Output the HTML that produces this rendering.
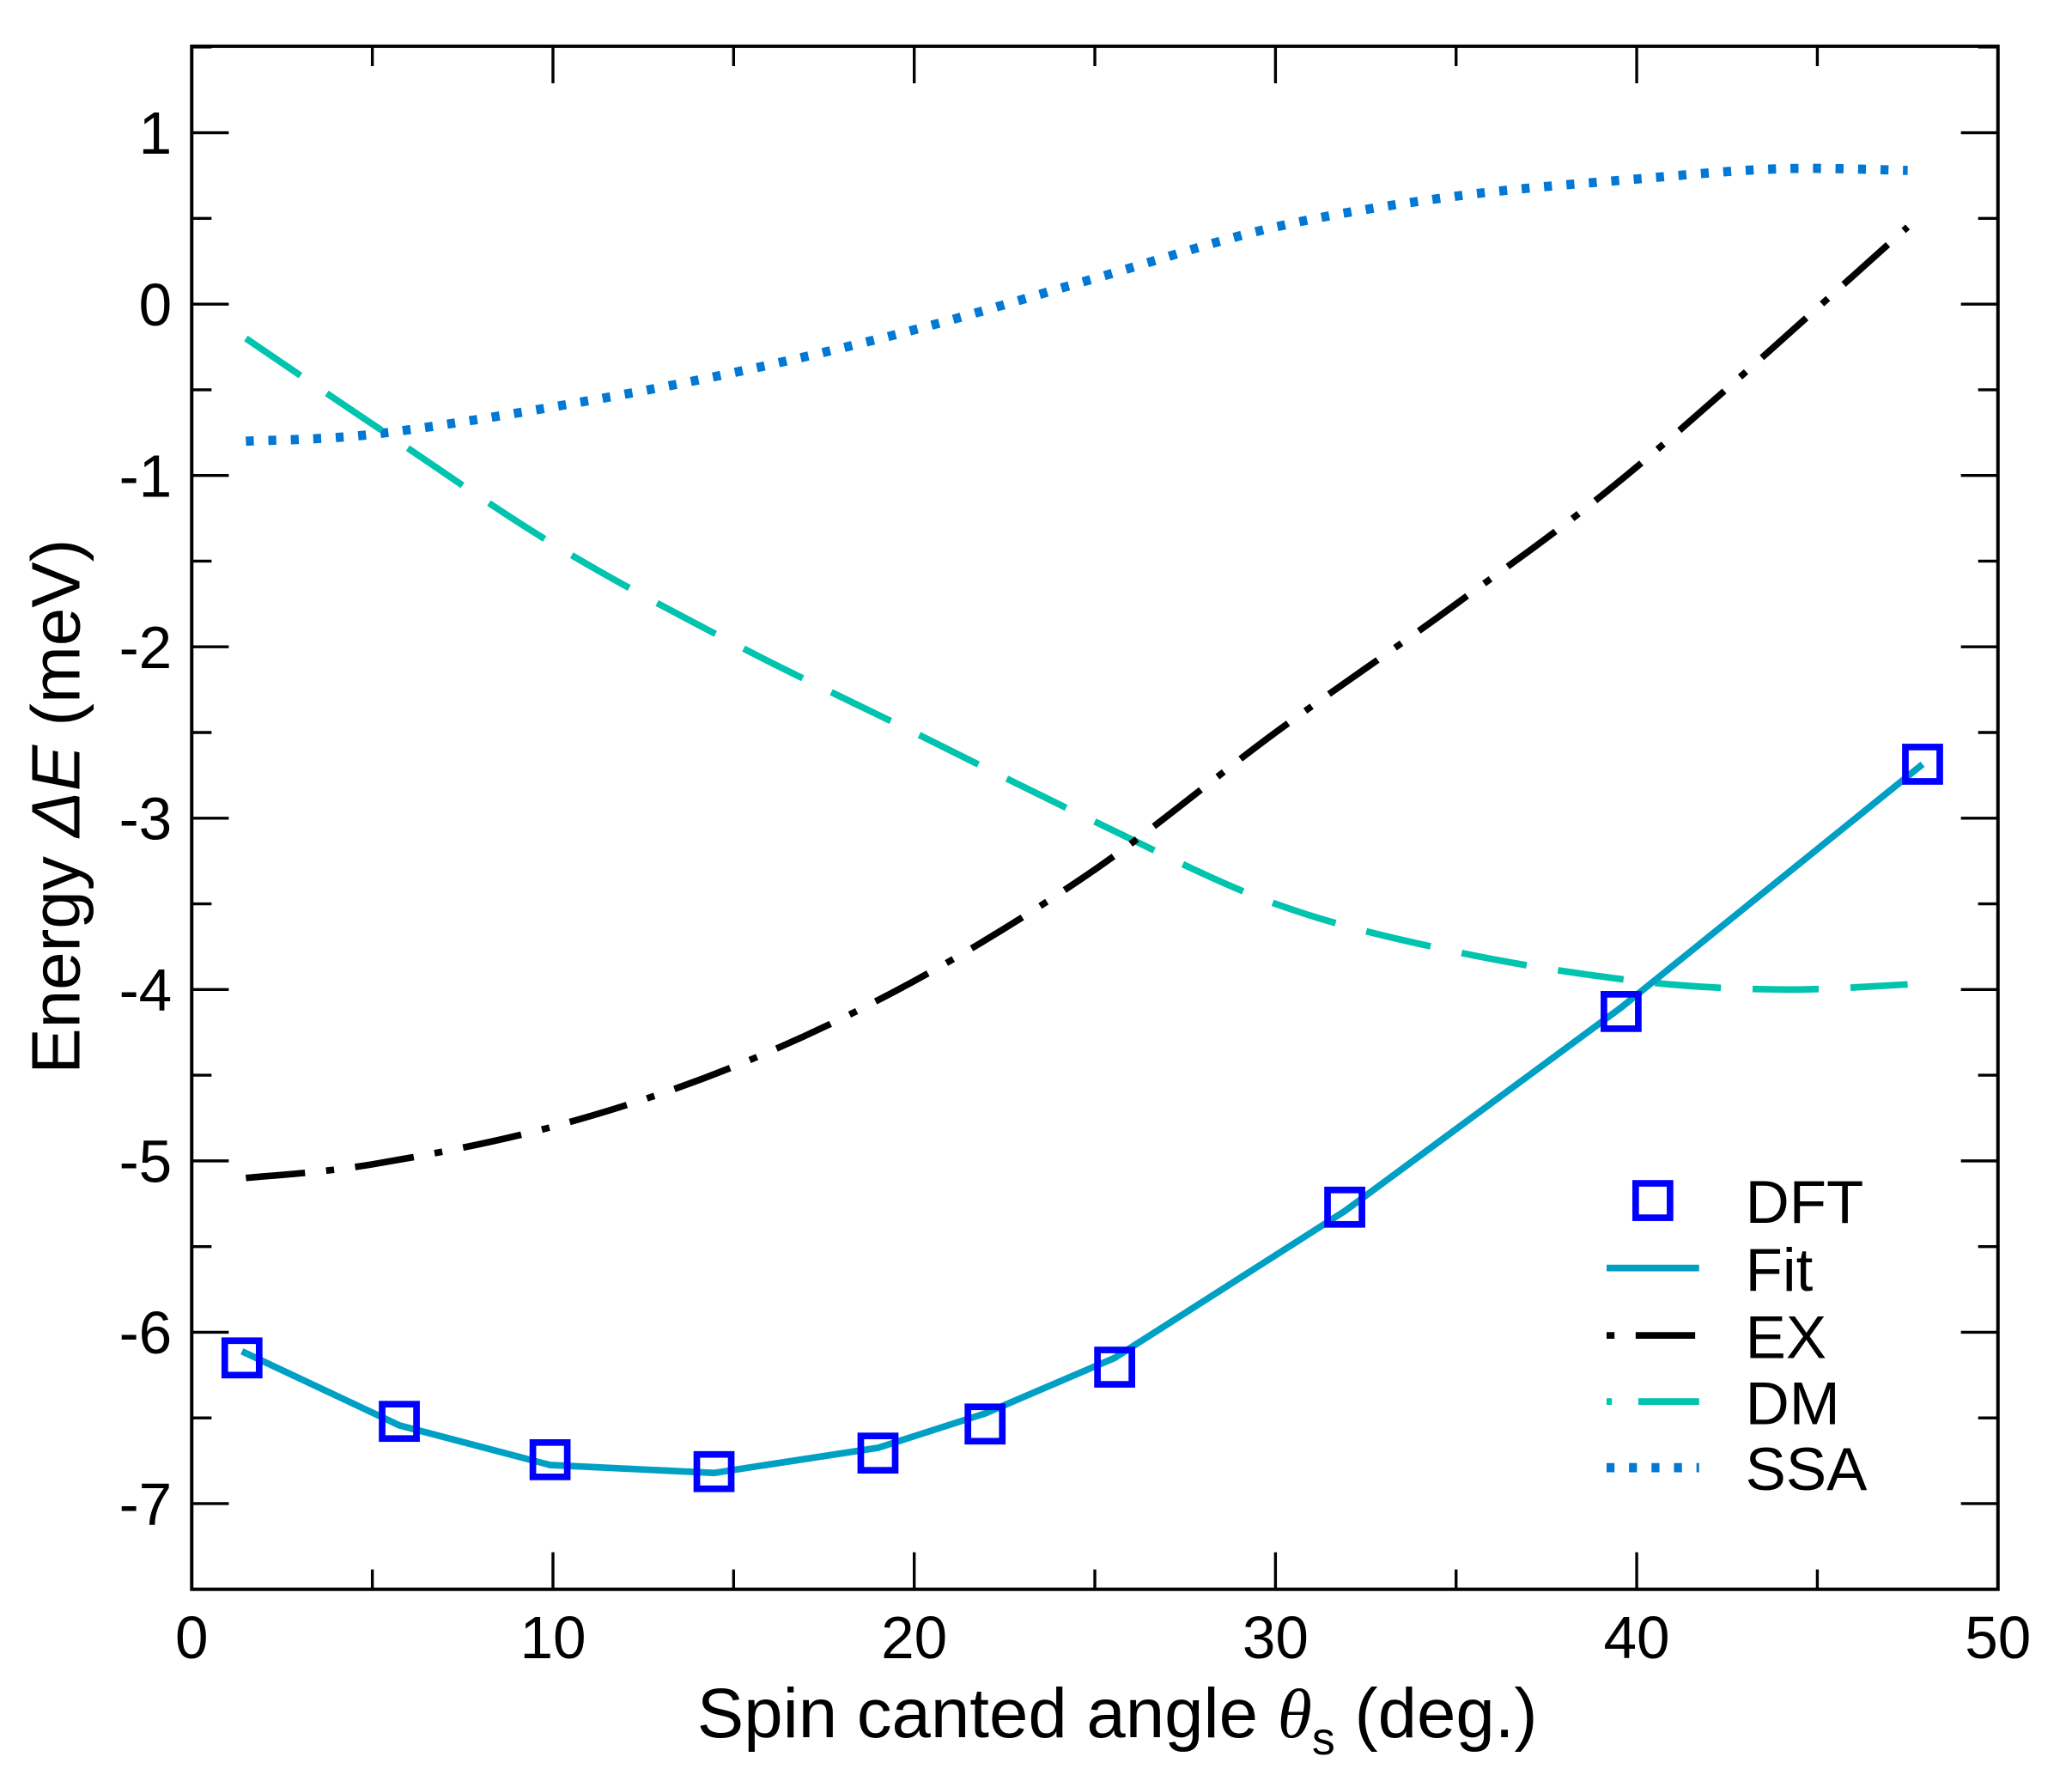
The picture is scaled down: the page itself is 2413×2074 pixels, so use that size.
<!DOCTYPE html>
<html><head><meta charset="utf-8">
<style>html,body{margin:0;padding:0;background:#fff}svg{display:block}</style>
</head><body>
<svg id="s" width="2413" height="2074" viewBox="0 0 1567 1347" preserveAspectRatio="none" xmlns="http://www.w3.org/2000/svg" font-family="Liberation Sans, Arial, sans-serif">
<rect width="1567" height="1347" fill="#fff"/>
<g id="ticks" stroke="#000" stroke-width="2.2"></g>
<g id="curves" fill="none"></g>
<rect x="145" y="35" width="1366" height="1167" fill="none" stroke="#000" stroke-width="2.6"/>
<g id="labels" font-size="45" fill="#000"></g>
<text x="845" y="1314" font-size="53" text-anchor="middle">Spin canted angle <tspan font-family="Liberation Serif, serif" font-style="italic">θ</tspan><tspan font-size="35" dy="13">s</tspan><tspan dy="-13"> (deg.)</tspan></text>
<text transform="translate(60,610) rotate(-90)" font-size="52" text-anchor="middle">Energy <tspan font-style="italic">ΔE</tspan> (meV)</text>
<g id="legend" font-size="46"></g>
</svg>
<script>
const NS="http://www.w3.org/2000/svg";
const X=x=>145+x*27.32, Y=y=>230-y*129.6;
function el(p,t,a,txt){const e=document.createElementNS(NS,t);for(const k in a)e.setAttribute(k,a[k]);if(txt!==undefined)e.textContent=txt;document.getElementById(p).appendChild(e);return e;}
for(let v=0;v<=50;v+=5){const px=X(v),L=v%10==0?28:15;
 el('ticks','line',{x1:px,y1:1202,x2:px,y2:1202-L});el('ticks','line',{x1:px,y1:35,x2:px,y2:35+L});
 if(v%10==0)el('labels','text',{x:px,y:1254,'text-anchor':'middle'},String(v));}
for(let v=-7.5;v<=1.5;v+=0.5){const py=Y(v),maj=Math.abs(v-Math.round(v))<1e-6,L=maj?28:15;
 el('ticks','line',{x1:145,y1:py,x2:145+L,y2:py});el('ticks','line',{x1:1511,y1:py,x2:1511-L,y2:py});
 if(maj&&v>=-7&&v<=1)el('labels','text',{x:130,y:py+16,'text-anchor':'end'},String(v));}
function cat(pts){const P=pts.map(p=>[X(p[0]),Y(p[1])]);let d=`M${P[0][0]},${P[0][1]}`;
 for(let i=0;i<P.length-1;i++){const p0=P[Math.max(i-1,0)],p1=P[i],p2=P[i+1],p3=P[Math.min(i+2,P.length-1)];
 const c1=[p1[0]+(p2[0]-p0[0])/6,p1[1]+(p2[1]-p0[1])/6],c2=[p2[0]-(p3[0]-p1[0])/6,p2[1]-(p3[1]-p1[1])/6];
 d+=` C${c1[0]},${c1[1]} ${c2[0]},${c2[1]} ${p2[0]},${p2[1]}`;}return d;}
const ex=[[1.5,-5.1],[5,-5.02],[10,-4.8],[15,-4.45],[20,-3.95],[25,-3.3],[30,-2.5],[35,-1.75],[40,-0.95],[47.5,0.45]];
const dm=[[1.5,-0.2],[5,-0.7],[10,-1.4],[15,-1.98],[20,-2.5],[25,-3.02],[30,-3.5],[35,-3.78],[40,-3.95],[44,-4.0],[47.5,-3.97]];
const ssa=[[1.5,-0.8],[5,-0.76],[10,-0.6],[15,-0.4],[20,-0.15],[25,0.15],[30,0.45],[35,0.63],[40,0.73],[44,0.79],[47.5,0.78]];
const dft=[[183,1027],[302,1075],[416,1104],[540,1113],[664,1099],[745,1077],[843,1034],[1017,913],[1226,765],[1454,578]];
el('curves','path',{d:cat(ssa),stroke:'#0078d4','stroke-width':7,'stroke-dasharray':'6 11'});
el('curves','path',{d:cat(dm),stroke:'#00c4ad','stroke-width':5,'stroke-dasharray':'50 24'});
el('curves','path',{d:cat(ex),stroke:'#000','stroke-width':5,'stroke-dasharray':'45 16 6 16'});
const fit=[[183,1022],[302,1078],[416,1108],[540,1114],[664,1095],[745,1069],[843,1027],[1017,916],[1226,762],[1454,578]];
el('curves','path',{d:'M'+fit.map(p=>p.join(',')).join(' L'),stroke:'#00a0c4','stroke-width':5});
for(const p of dft)el('curves','rect',{x:p[0]-13,y:p[1]-13,width:26,height:26,stroke:'#0000ff','stroke-width':5});
el('legend','rect',{x:1237,y:895,width:26,height:26,fill:'none',stroke:'#0000ff','stroke-width':5});
el('legend','line',{x1:1215,y1:959,x2:1285,y2:959,stroke:'#00a0c4','stroke-width':5});
el('legend','line',{x1:1215,y1:1010,x2:1285,y2:1010,stroke:'#000','stroke-width':5,'stroke-dasharray':'6 16 45 16'});
el('legend','line',{x1:1215,y1:1060,x2:1285,y2:1060,stroke:'#00c4ad','stroke-width':5,'stroke-dasharray':'4 20 50 0'});
el('legend','line',{x1:1215,y1:1110,x2:1285,y2:1110,stroke:'#0078d4','stroke-width':7,'stroke-dasharray':'6 11'});
[['DFT',925],['Fit',976],['EX',1027],['DM',1077],['SSA',1127]].forEach(t=>el('legend','text',{x:1320,y:t[1]},t[0]));
</script>
</body></html>
